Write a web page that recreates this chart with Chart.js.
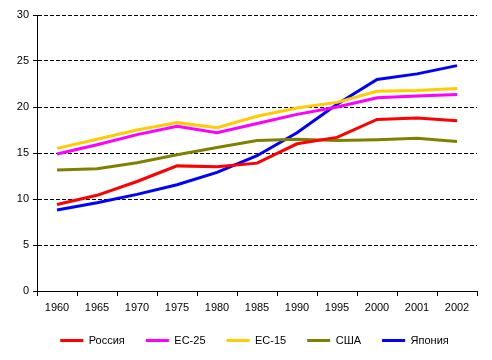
<!DOCTYPE html>
<html>
<head>
<meta charset="utf-8">
<script src="https://cdn.jsdelivr.net/npm/chart.js@4/dist/chart.umd.min.js"></script>
<style>
html,body{margin:0;padding:0;background:#fff;}
#wrap{position:relative;width:492px;height:360px;}
</style>
</head>
<body>
<div id="wrap"><canvas id="c" width="492" height="360"></canvas></div>
<script>
const years = ['1960','1965','1970','1975','1980','1985','1990','1995','2000','2001','2002'];
const russia = [9.4, 10.4, 11.9, 13.6, 13.5, 13.9, 16.0, 16.7, 18.65, 18.8, 18.5];
const eu25   = [14.9, 15.9, 17.0, 17.9, 17.2, 18.2, 19.2, 20.0, 21.0, 21.2, 21.35];
const eu15   = [15.5, 16.5, 17.5, 18.3, 17.75, 19.0, 19.9, 20.5, 21.7, 21.8, 22.0];
const usa    = [13.15, 13.3, 13.95, 14.8, 15.6, 16.35, 16.5, 16.35, 16.45, 16.6, 16.25];
const japan  = [8.8, 9.6, 10.5, 11.55, 12.9, 14.7, 17.2, 20.3, 23.0, 23.6, 24.5];
const yTicks = [0, 5, 10, 15, 20, 25, 30];

const FONT = {family: '"Liberation Sans", Arial, sans-serif', size: 11};
function ds(label, data, color){
  return {label, data, borderColor: color, backgroundColor: color, borderWidth: 3,
          pointRadius: 0, pointHoverRadius: 0, tension: 0, fill: false};
}
const shiftLegend = {
  id: 'shiftLegend',
  afterLayout(chart){
    if (chart.legend){ chart.legend.left += 16; chart.legend.right += 16; }
  }
};
new Chart(document.getElementById('c'), {
  type: 'line',
  data: {
    labels: years,
    datasets: [
      ds('Россия', russia, '#FF0000'),
      ds('ЕС-25', eu25, '#FF00FF'),
      ds('ЕС-15', eu15, '#FFCC00'),
      ds('США', usa, '#808000'),
      ds('Япония', japan, '#0000FF')
    ]
  },
  plugins: [shiftLegend],
  options: {
    responsive: false,
    animation: false,
    devicePixelRatio: 1,
    layout: {padding: {left: 0, right: 15, top: 15, bottom: 4}},
    plugins: {
      tooltip: {enabled: false},
      legend: {
        position: 'bottom',
        labels: {
          font: FONT, color: '#000',
          usePointStyle: true, pointStyle: 'line', pointStyleWidth: 23,
          boxHeight: 3, padding: 21
        }
      }
    },
    scales: {
      x: {
        type: 'category',
        offset: true,
        grid: {display: true, drawOnChartArea: false, drawTicks: true, tickLength: 5, offset: true, color: '#000', lineWidth: 1},
        border: {display: true, color: '#000', width: 1},
        ticks: {font: FONT, color: '#000', padding: 5, maxRotation: 0, autoSkip: false},
        afterFit: s => { s.height = 23; }
      },
      y: {
        min: 0, max: 30,
        afterBuildTicks: s => { s.ticks = yTicks.map(v => ({value: v})); },
        grid: {color: '#000', lineWidth: 1, drawTicks: true, tickLength: 4, tickBorderDash: [4, 0]},
        border: {display: true, color: '#000', width: 1, dash: [4, 2]},
        ticks: {font: FONT, color: '#000', padding: 4},
        afterFit: s => { s.width = 37; }
      }
    }
  }
});
</script>
</body>
</html>
